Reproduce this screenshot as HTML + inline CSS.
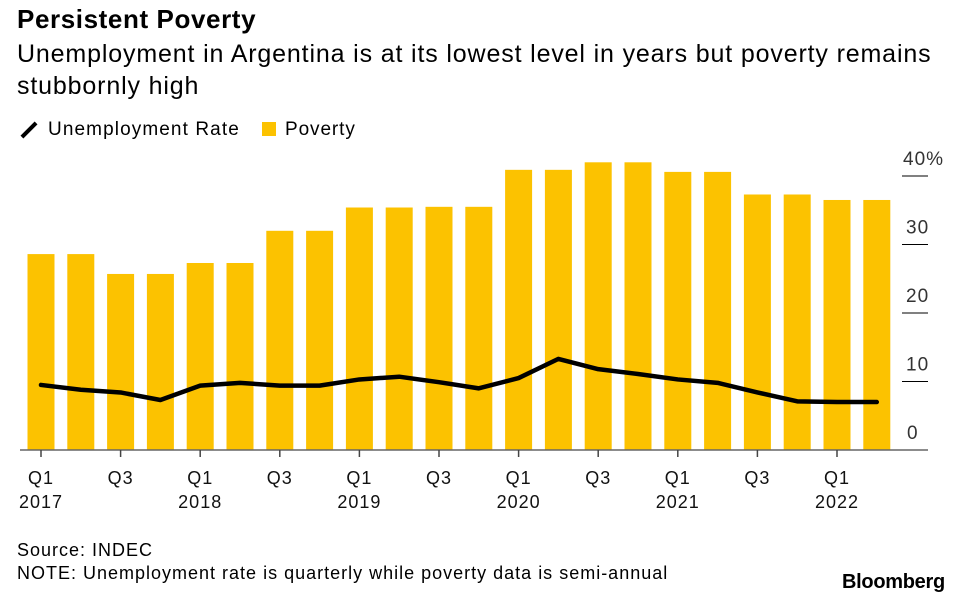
<!DOCTYPE html>
<html><head><meta charset="utf-8"><style>
body{margin:0;background:#fff;font-family:"Liberation Sans",sans-serif;color:#000}
#wrap{position:relative;width:961px;height:597px;overflow:hidden}
.t{position:absolute;white-space:nowrap}
</style></head><body><div id="wrap">
<div class="t" style="left:17px;top:4px;font-size:26px;font-weight:bold;letter-spacing:0.6px">Persistent Poverty</div>
<div class="t" style="left:17px;top:38px;font-size:25px;line-height:32px;letter-spacing:0.85px;white-space:normal;width:935px">Unemployment in Argentina is at its lowest level in years but poverty remains stubbornly high</div>
<div class="t" style="left:19px;top:119px;font-size:19px;letter-spacing:1.1px"><span style="display:inline-block;width:20px;height:4px;background:#000;transform:rotate(-45deg);vertical-align:middle;margin-right:9px"></span>Unemployment Rate</div>
<div class="t" style="left:262px;top:119px;font-size:19px;letter-spacing:0.9px"><span style="display:inline-block;width:14px;height:14px;background:#fcc200;vertical-align:-1px;margin-right:9px"></span>Poverty</div>
<svg id="chart" width="961" height="597" style="position:absolute;left:0;top:0"></svg>
<div class="t" style="left:17px;top:540px;font-size:18px;letter-spacing:1px">Source: INDEC</div>
<div class="t" style="left:17px;top:563px;font-size:18px;letter-spacing:1px">NOTE: Unemployment rate is quarterly while poverty data is semi-annual</div>
<div class="t" style="left:842px;top:571px;font-size:20px;font-weight:bold;letter-spacing:-0.3px">Bloomberg</div>
</div>
<script>
const quarters=["Q1 2017","Q2 2017","Q3 2017","Q4 2017","Q1 2018","Q2 2018","Q3 2018","Q4 2018","Q1 2019","Q2 2019","Q3 2019","Q4 2019","Q1 2020","Q2 2020","Q3 2020","Q4 2020","Q1 2021","Q2 2021","Q3 2021","Q4 2021","Q1 2022","Q2 2022"];
const povertyHalves=[28.6,25.7,27.3,32.0,35.4,35.5,40.9,42.0,40.6,37.3,36.5];
const unemployment=[9.5,8.8,8.4,7.3,9.4,9.8,9.4,9.4,10.3,10.7,9.9,9.0,10.5,13.3,11.8,11.1,10.3,9.8,8.4,7.1,7.0,7.0];
const yTicks=[0,10,20,30,40];
const yTickLabels=["0","10","20","30","40%"];
const xLabelIdx=[0,2,4,6,8,10,12,14,16,18,20];
const xLabels=[["Q1","2017"],["Q3",""],["Q1","2018"],["Q3",""],["Q1","2019"],["Q3",""],["Q1","2020"],["Q3",""],["Q1","2021"],["Q3",""],["Q1","2022"]];
const svg=document.getElementById('chart');const NS='http://www.w3.org/2000/svg';
const x=i=>41+i*39.8;const y=v=>450-v*6.85;
function mk(t,a){const e=document.createElementNS(NS,t);for(const k in a)e.setAttribute(k,a[k]);svg.appendChild(e);return e;}
quarters.forEach((q,i)=>{const v=povertyHalves[Math.floor(i/2)];
const r=mk('rect',{x:x(i)-13.5,y:y(v),width:27,height:450-y(v),fill:'#fcc200'});

});
yTicks.forEach((t,i)=>{if(t>0){const l=mk('line',{x1:902,x2:928,y1:y(t),y2:y(t),stroke:'#000','stroke-width':1});

}
const tx=mk('text',{x:t==40?903:(t==0?907:906),y:y(t)-11,'font-size':19,'letter-spacing':1,'font-family':'Liberation Sans, sans-serif',fill:'#333'});tx.textContent=yTickLabels[i];

});
const ax=mk('line',{x1:20,x2:928,y1:450,y2:450,stroke:'#666','stroke-width':1.5});


xLabelIdx.forEach((idx,k)=>{const tk=mk('line',{x1:x(idx),x2:x(idx),y1:450,y2:457,stroke:'#444','stroke-width':1.5});


xLabels[k].forEach((s,j)=>{if(!s)return;const t=mk('text',{x:x(idx),y:484+j*24,'text-anchor':'middle','font-size':18,'letter-spacing':1,'font-family':'Liberation Sans, sans-serif',fill:'#111'});t.textContent=s;

});});
const pl=mk('polyline',{points:unemployment.map((v,i)=>x(i)+','+y(v)).join(' '),fill:'none',stroke:'#000','stroke-width':4.5,'stroke-linejoin':'round','stroke-linecap':'round'});


</script></body></html>
